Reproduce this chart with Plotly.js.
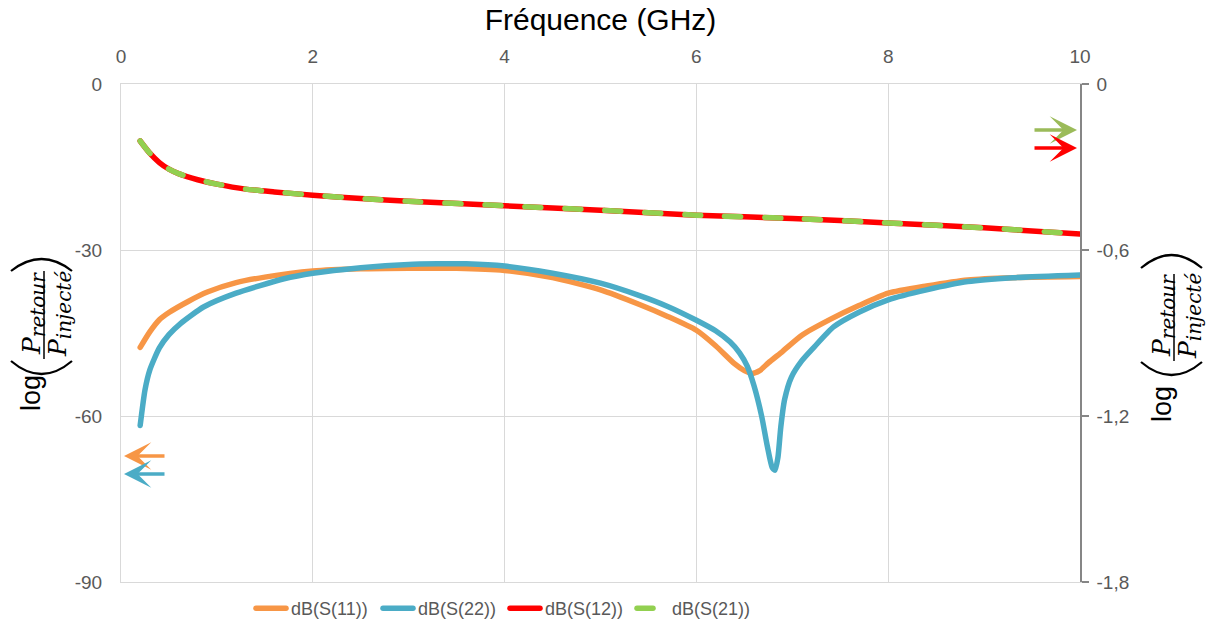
<!DOCTYPE html>
<html>
<head>
<meta charset="utf-8">
<script src="https://cdn.plot.ly/plotly-3.0.1.min.js"></script>
<style>
  html, body { margin: 0; padding: 0; background: #fff; }
  #chart { width: 1207px; height: 624px; }
  .scatterlayer .js-line, .legendlines path { stroke-linecap: round; stroke-linejoin: round; }
</style>
</head>
<body>
<div id="chart"></div>
<script>
// ---------- data ----------
const freqS11 = [0.2,0.3,0.4,0.5,0.7,0.9,1.2,1.5,2.0,2.5,3.0,3.5,4.0,4.5,5.0,5.4,5.7,6.0,6.2,6.4,6.5,6.58,6.66,6.75,6.9,7.1,7.4,7.7,8.0,8.4,8.83,9.3,10.0];
const dbS11   = [-47.6,-44.8,-42.6,-41.3,-39.3,-37.6,-35.9,-34.9,-33.8,-33.4,-33.3,-33.3,-33.7,-35.0,-37.2,-39.8,-42.0,-44.5,-47.3,-50.6,-51.8,-52.3,-51.8,-50.4,-48.3,-45.4,-42.5,-40.0,-37.8,-36.5,-35.4,-35.0,-34.8];

const freqS22 = [0.2,0.25,0.3,0.4,0.5,0.62,0.86,1.2,1.7,2.0,2.5,3.0,3.3,3.6,4.0,4.5,5.0,5.4,5.7,6.0,6.2,6.35,6.45,6.53,6.6,6.68,6.74,6.79,6.82,6.85,6.88,6.92,6.99,7.1,7.23,7.43,7.7,8.0,8.4,8.83,9.3,10.0];
const dbS22   = [-61.7,-55.3,-51.7,-47.7,-45.3,-43.3,-40.3,-37.8,-35.2,-34.2,-33.2,-32.6,-32.5,-32.5,-32.9,-34.2,-36.0,-38.2,-40.2,-42.7,-44.6,-46.6,-48.6,-51.0,-54.5,-60.0,-65.5,-69.3,-69.8,-67.5,-62.0,-57.0,-53.0,-50.0,-47.5,-43.9,-41.2,-39.0,-37.2,-35.7,-35.0,-34.5];

// S12 / S21 are read on the right axis
const freqS12 = [0.2,0.3,0.4,0.5,0.6,0.8,1.0,1.3,1.6,2.0,2.5,3.0,4.0,5.0,6.0,7.0,8.0,9.0,10.0];
const valS12  = [-0.206,-0.25,-0.284,-0.308,-0.324,-0.346,-0.362,-0.38,-0.39,-0.402,-0.414,-0.424,-0.44,-0.456,-0.474,-0.486,-0.502,-0.52,-0.542];
const freqS21 = [0.2,0.3,0.4,0.5,0.6,0.8,1.0,1.3,1.6,2.0,2.5,3.0,4.0,5.0,6.0,7.0,8.0,9.0,10.0];
const valS21  = [-0.206,-0.25,-0.284,-0.308,-0.324,-0.346,-0.362,-0.38,-0.39,-0.402,-0.414,-0.424,-0.44,-0.456,-0.474,-0.486,-0.502,-0.52,-0.542];

const seriesNames = ["dB(S(11))","dB(S(22))","dB(S(12))","dB(S(21))"];
const xTickVals = [0,2,4,6,8,10];
const xTickText = ["0","2","4","6","8","10"];
const yLeftTickVals = [0,-30,-60,-90];
const yLeftTickText = ["0","-30","-60","-90"];
const yRightTickVals = [0,-0.6,-1.2,-1.8];
const yRightTickText = ["0","-0,6","-1,2","-1,8"];
const xTitle = "Fréquence (GHz)";

// ---------- layout helpers (pixel -> paper) ----------
const W = 1207, H = 624;
const M = {l:121, r:127, t:84, b:42};
const PW = W - M.l - M.r, PH = H - M.t - M.b;
const px = x => (x - M.l) / PW;
const py = y => (H - M.b - y) / PH;

const FONT = "Liberation Sans, Arial, sans-serif";
const GREY = "#595959";
const C_ORANGE = "#F79646", C_BLUE = "#4BACC6", C_RED = "#FF0000", C_GREEN = "#92D050", C_GREEN_ARROW = "#9BBB59";
const LW = 5.5;

const traces = [
  {x: freqS11, y: dbS11, name: seriesNames[0], mode: "lines", line: {color: C_ORANGE, width: LW, shape: "spline", smoothing: 0.6}, yaxis: "y"},
  {x: freqS22, y: dbS22, name: seriesNames[1], mode: "lines", line: {color: C_BLUE, width: LW, shape: "spline", smoothing: 0.6}, yaxis: "y"},
  {x: freqS12, y: valS12, name: seriesNames[2], mode: "lines", line: {color: C_RED, width: LW, shape: "spline", smoothing: 0.6}, yaxis: "y2"},
  {x: freqS21, y: valS21, name: seriesNames[3], mode: "lines", line: {color: C_GREEN, width: LW, dash: "16px,24px", shape: "spline", smoothing: 0.6}, yaxis: "y2"}
];

// y-axis titles: log( P_retour / P_injecté ), built from rotated text pieces
function axisTitle(cfg) {
  const ann = [], shp = [];
  ann.push({xref:"paper", yref:"paper", x:px(cfg.logX), y:py(cfg.logY), text:"log", textangle:-90,
            showarrow:false, xanchor:"center", yanchor:"middle", font:{family:FONT, size:27, color:"#000"}});
  ann.push({xref:"paper", yref:"paper", x:px(cfg.numX), y:py(cfg.fracY), textangle:-90, showarrow:false,
            xanchor:"center", yanchor:"middle",
            text:"<i>P</i><sub><span style=\"font-size:20px\"><i>retour</i></span></sub>", font:{family:"DejaVu Serif, serif", size:25, color:"#000"}});
  ann.push({xref:"paper", yref:"paper", x:px(cfg.denX), y:py(cfg.fracY), textangle:-90, showarrow:false,
            xanchor:"center", yanchor:"middle",
            text:"<i>P</i><sub><span style=\"font-size:20px\"><i>injecté</i></span></sub>", font:{family:"DejaVu Serif, serif", size:25, color:"#000"}});
  // fraction bar
  shp.push({type:"line", xref:"paper", yref:"paper", x0:px(cfg.barX), x1:px(cfg.barX), y0:py(cfg.barTop), y1:py(cfg.barBot),
            line:{color:"#000", width:1.5}});
  // parentheses (rotated): lower arc opens upward, upper arc opens downward
  const a = cfg.parL, b = cfg.parR, m = (a + b) / 2;
  shp.push({type:"path", xref:"paper", yref:"paper",
            path:`M ${px(a)},${py(cfg.lowEnd)} Q ${px(m)},${py(cfg.lowEnd + 2*(cfg.lowApex-cfg.lowEnd))} ${px(b)},${py(cfg.lowEnd)}`,
            line:{color:"#000", width:2.2}});
  shp.push({type:"path", xref:"paper", yref:"paper",
            path:`M ${px(a)},${py(cfg.upEnd)} Q ${px(m)},${py(cfg.upEnd - 2*(cfg.upEnd-cfg.upApex))} ${px(b)},${py(cfg.upEnd)}`,
            line:{color:"#000", width:2.2}});
  return {ann, shp};
}
const leftT = axisTitle({logX:31, logY:393, numX:33, denX:59, fracY:314, barX:44, barTop:271, barBot:359,
                         parL:11, parR:72, lowEnd:361, lowApex:374, upEnd:271, upApex:259});
const rightT = axisTitle({logX:1162, logY:404, numX:1163, denX:1189, fracY:316, barX:1174, barTop:274, barBot:361,
                         parL:1141, parR:1202, lowEnd:362, lowApex:375, upEnd:268, upApex:255});

// arrows pointing at the axis each pair of curves belongs to
function arrow(xHead, yHead, dx, color) {
  return {xref:"paper", yref:"paper", x:px(xHead), y:py(yHead), ax:dx, ay:0, text:"", showarrow:true,
          arrowhead:3, arrowsize:1.3, arrowwidth:3.5, arrowcolor:color, standoff:0};
}
const arrows = [
  arrow(124, 456, 42, C_ORANGE),
  arrow(124, 474, 42, C_BLUE),
  arrow(1077, 130, -44, C_GREEN_ARROW),
  arrow(1077, 148, -44, C_RED)
];

const layout = {
  width: W, height: H,
  margin: M,
  paper_bgcolor: "#fff", plot_bgcolor: "#fff",
  font: {family: FONT, color: GREY},
  separators: ", ",
  showlegend: true,
  legend: {orientation:"h", xref:"container", yref:"container", x:251/W, xanchor:"left", y:1 - 590/H, yanchor:"top",
           font:{family:FONT, size:18, color:GREY}, bgcolor:"rgba(0,0,0,0)", itemwidth:30, traceorder:"normal",
           entrywidth:82, entrywidthmode:"pixels"},
  xaxis: {
    side: "top", range: [0, 10], tickvals: xTickVals, ticktext: xTickText,
    showgrid: true, gridcolor: "#d9d9d9", gridwidth: 1,
    showline: true, linecolor: "#d9d9d9", linewidth: 1, mirror: true,
    zeroline: false, ticks: "", ticklabelstandoff: 12,
    tickfont: {family: FONT, size: 19, color: GREY},
    title: {text: xTitle, font: {family: FONT, size: 30, color: "#000"}, standoff: 6}
  },
  yaxis: {
    range: [-90, 0], tickvals: yLeftTickVals, ticktext: yLeftTickText,
    showgrid: true, gridcolor: "#d9d9d9", gridwidth: 1,
    showline: true, linecolor: "#d9d9d9", linewidth: 1,
    zeroline: false, ticks: "", ticklabelstandoff: 14,
    tickfont: {family: FONT, size: 19, color: GREY}
  },
  yaxis2: {
    overlaying: "y", side: "right", range: [-1.8, 0],
    tickvals: yRightTickVals, ticktext: yRightTickText,
    showgrid: false, showline: true, linecolor: "#868686", linewidth: 1.5,
    zeroline: false, ticks: "outside", ticklen: 7, tickcolor: "#868686", tickwidth: 1.5,
    ticklabelstandoff: 4,
    tickfont: {family: FONT, size: 19, color: GREY}
  },
  annotations: [...leftT.ann, ...rightT.ann, ...arrows],
  shapes: [...leftT.shp, ...rightT.shp]
};

Plotly.newPlot("chart", traces, layout, {displayModeBar: false, responsive: false});
</script>
</body>
</html>
